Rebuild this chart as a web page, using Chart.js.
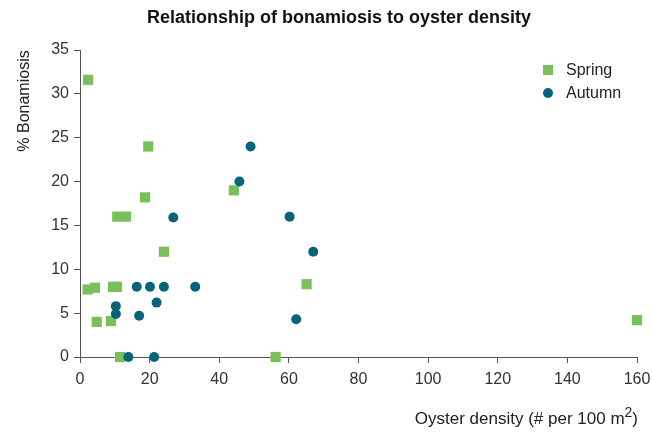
<!DOCTYPE html>
<html>
<head>
<meta charset="utf-8">
<script src="https://cdn.jsdelivr.net/npm/chart.js@4"></script>
<style>
html,body{margin:0;padding:0;background:#fff;}
#wrap{width:652px;height:432px;position:relative;}
</style>
</head>
<body>
<div id="wrap"><canvas id="c" width="652" height="432"></canvas></div>
<script>
const chartTitle = "Relationship of bonamiosis to oyster density";
const xAxisTitle = "Oyster density (# per 100 m";
const xAxisTitleSup = "2";
const xAxisTitleEnd = ")";
const yAxisTitle = "% Bonamiosis";
const seriesNames = ["Spring", "Autumn"];

const springX = [2.3, 19.6, 18.7, 10.7, 13.2, 24.1, 2.2, 4.3, 9.5, 10.6, 4.8, 8.9, 11.5, 44.2, 65.1, 56.2, 160];
const springY = [31.6, 24.0, 18.2, 16.0, 16.0, 12.0, 7.7, 7.9, 8.0, 8.0, 4.0, 4.1, 0, 19.0, 8.3, 0, 4.2];

const autumnX = [26.8, 16.3, 20.1, 24.1, 33.1, 22.0, 10.3, 10.3, 17.0, 13.9, 21.3, 49.0, 45.8, 60.2, 67.0, 62.1];
const autumnY = [15.9, 8.0, 8.0, 8.0, 8.0, 6.2, 5.8, 4.9, 4.7, 0, 0, 24.0, 20.0, 16.0, 12.0, 4.3];

const xMin = 0, xMax = 160, xStep = 20;
const yMin = 0, yMax = 35, yStep = 5;

const GREEN = "#79BF5A";
const TEAL = "#07637A";
const FONT = "'Liberation Sans', Arial, Helvetica, sans-serif";

function pts(xs, ys){ return xs.map((x,i)=>({x:x, y:ys[i]})); }

const overlay = {
  id: 'overlay',
  afterDraw(chart){
    const ctx = chart.ctx;
    ctx.save();
    // title
    ctx.fillStyle = '#111';
    ctx.font = "bold 18px " + FONT;
    ctx.textAlign = 'center';
    ctx.textBaseline = 'middle';
    ctx.fillText(chartTitle, 339, 18);
    // y title
    ctx.font = "16px " + FONT;
    ctx.fillStyle = '#222';
    ctx.save();
    ctx.translate(25, 101);
    ctx.rotate(-Math.PI/2);
    ctx.textAlign = 'center';
    ctx.textBaseline = 'middle';
    ctx.fillText(yAxisTitle, 0, 0);
    ctx.restore();
    // x title with superscript, right-aligned at 638
    ctx.textBaseline = 'alphabetic';
    ctx.textAlign = 'left';
    ctx.font = "17px " + FONT;
    const wMain = ctx.measureText(xAxisTitle).width;
    const wEnd = ctx.measureText(xAxisTitleEnd).width;
    ctx.font = "14px " + FONT;
    const wSup = ctx.measureText(xAxisTitleSup).width;
    let x0 = 638 - wMain - wSup - wEnd;
    const base = 424;
    ctx.font = "17px " + FONT;
    ctx.fillText(xAxisTitle, x0, base);
    ctx.font = "14px " + FONT;
    ctx.fillText(xAxisTitleSup, x0 + wMain, base - 7);
    ctx.font = "17px " + FONT;
    ctx.fillText(xAxisTitleEnd, x0 + wMain + wSup, base);
    // legend
    ctx.textBaseline = 'middle';
    const items = [[seriesNames[0], GREEN, 'rect', 70], [seriesNames[1], TEAL, 'circle', 93]];
    items.forEach(([label, col, shape, y])=>{
      ctx.fillStyle = col;
      if (shape === 'rect') { ctx.fillRect(543, y-5, 10, 10); }
      else { ctx.beginPath(); ctx.arc(548, y, 5, 0, Math.PI*2); ctx.fill(); }
      ctx.fillStyle = '#222';
      ctx.textAlign = 'left';
      ctx.font = "16px " + FONT;
      ctx.fillText(label, 566, y+1);
    });
    ctx.restore();
  }
};

new Chart(document.getElementById('c'), {
  type: 'scatter',
  data: {
    datasets: [
      { label: seriesNames[0], data: pts(springX, springY), pointStyle: 'rect', pointRadius: 7.2, pointHoverRadius: 7.2,
        backgroundColor: GREEN, borderColor: GREEN, borderWidth: 0, order: 2, clip: false },
      { label: seriesNames[1], data: pts(autumnX, autumnY), pointStyle: 'circle', pointRadius: 5, pointHoverRadius: 5,
        backgroundColor: TEAL, borderColor: TEAL, borderWidth: 0, order: 1, clip: false }
    ]
  },
  options: {
    responsive: false,
    animation: false,
    events: [],
    layout: { padding: { top: 50, right: 15, left: 0, bottom: 0 } },
    plugins: { legend: { display: false }, title: { display: false }, tooltip: { enabled: false } },
    scales: {
      x: {
        type: 'linear', min: xMin, max: xMax,
        ticks: { stepSize: xStep, color: '#333', font: { family: FONT, size: 16 }, padding: 7, maxRotation: 0 },
        grid: { display: true, drawOnChartArea: false, drawTicks: true, tickLength: 6, color: '#555' },
        border: { display: true, color: '#555', width: 1 },
        afterFit(s){ s.height = 75; s.paddingRight = 0; s.paddingLeft = 0; }
      },
      y: {
        type: 'linear', min: yMin, max: yMax,
        ticks: { stepSize: yStep, color: '#333', font: { family: FONT, size: 16 }, padding: 5 },
        grid: { display: true, drawOnChartArea: false, drawTicks: true, tickLength: 6, color: '#555' },
        border: { display: true, color: '#555', width: 1 },
        afterFit(s){ s.width = 80; s.paddingTop = 0; s.paddingBottom = 0; }
      }
    }
  },
  plugins: [overlay]
});
</script>
</body>
</html>
